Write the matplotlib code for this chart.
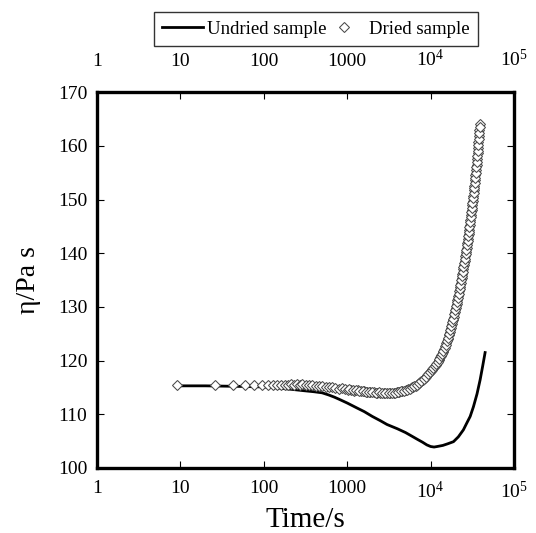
import matplotlib
matplotlib.use("Agg")
import matplotlib.pyplot as plt
from matplotlib.ticker import FixedLocator, FixedFormatter, NullLocator

plt.rcParams['font.family'] = ['Liberation Serif', 'DejaVu Serif']
plt.rcParams['mathtext.fontset'] = 'custom'
plt.rcParams['mathtext.rm'] = 'Liberation Serif'
plt.rcParams['mathtext.it'] = 'Liberation Serif:italic'

# Undried sample (line)
undried_t = [9, 20, 50, 100, 150, 200, 300, 400, 500, 600, 700, 800, 1000, 1300,
             1600, 2000, 2500, 3000, 4000, 5000, 6000, 7000, 8000, 9000, 10000,
             11000, 12000, 14000, 16000, 18800, 21500, 24700, 27000, 29800, 32600,
             36000, 39200, 42000, 45000]
undried_eta = [115.3, 115.3, 115.2, 115.1, 114.9, 114.7, 114.4, 114.2, 114.0, 113.6,
               113.2, 112.8, 112.1, 111.2, 110.5, 109.6, 108.8, 108.1, 107.3, 106.6,
               105.9, 105.3, 104.8, 104.3, 104.0, 103.9, 104.0, 104.2, 104.5, 104.9,
               105.8, 107.1, 108.3, 109.6, 111.4, 113.8, 116.4, 118.9, 121.5]

# Dried sample (diamonds)
dried_t = [9, 26, 43, 60, 77, 94, 111, 128, 145, 162, 179, 196, 213, 230, 250, 270,
           290, 320, 350, 380, 420, 460, 500, 550, 600, 660, 720, 790, 860, 940, 1020,
           1120, 1220, 1340, 1460, 1600, 1750, 1900, 2100, 2300, 2500, 2750, 3000,
           3300, 3600, 3900, 4200, 4600, 5000, 5400, 5800, 6200, 6600, 7000, 7500,
           8000, 8500, 9000, 9500, 10000, 10500, 11000, 11500, 12000, 12500, 13000,
           13500, 14000, 14500, 15000, 15500, 16000, 16500, 17000, 17500, 18000,
           18500, 19000, 19500, 20000, 20500, 21000, 21500, 22000, 22500, 23000,
           23500, 24000, 24500, 25000, 25500, 26000, 26500, 27000, 27500, 28000,
           28500, 29000, 29500, 30000, 30500, 31000, 31500, 32000, 32500, 33000,
           33500, 34000, 34500, 35000, 35500, 36000, 36500, 37000, 37500, 38000,
           38500, 39000]
dried_eta = [115.5, 115.5, 115.4, 115.4, 115.4, 115.5, 115.4, 115.5, 115.4, 115.5,
             115.5, 115.4, 115.6, 115.5, 115.6, 115.4, 115.6, 115.5, 115.4, 115.5,
             115.3, 115.2, 115.3, 115.1, 115.0, 115.1, 114.9, 114.8, 114.9, 114.7,
             114.6, 114.6, 114.4, 114.5, 114.3, 114.3, 114.2, 114.1, 114.1, 114.0,
             114.0, 113.9, 114.0, 113.9, 114.0, 114.1, 114.2, 114.4, 114.5, 114.7,
             114.9, 115.1, 115.3, 115.6, 116.0, 116.4, 116.8, 117.3, 117.7, 118.1,
             118.5, 118.9, 119.2, 119.6, 120.1, 120.6, 121.1, 121.6, 122.1, 122.7,
             123.3, 124.0, 124.7, 125.4, 126.1, 126.8, 127.5, 128.2, 129.0, 129.8,
             130.5, 131.3, 132.1, 132.9, 133.7, 134.5, 135.4, 136.2, 137.0, 137.8,
             138.6, 139.4, 140.2, 141.0, 141.9, 142.7, 143.6, 144.4, 145.3, 146.2,
             147.1, 148.0, 148.9, 149.8, 150.7, 151.7, 152.6, 153.6, 154.5, 155.5,
             156.5, 157.5, 158.6, 159.6, 160.7, 161.8, 162.9, 164.0]

# Additional dried-sample readings in the dense part of the band
dried_t_dense = [1050, 1170, 1280, 1400, 1530, 1680, 1820, 2000, 2200, 2400, 2620,
                 2870, 3150, 3450, 3750, 4050, 4400, 4800, 5200, 5600, 6000, 6400,
                 6800, 7250, 7750, 8250, 8750, 9250, 9750,
                 10250, 10750, 11250, 11750, 12250, 12750, 13250, 13750, 14250, 14750,
                 15250, 15750, 16250, 16750, 17250, 17750, 18250, 18750, 19250, 19750,
                 20250, 20750, 21250, 21750, 22250, 22750, 23250, 23750, 24250, 24750,
                 25250, 25750, 26250, 26750, 27250, 27750, 28250, 28750, 29250, 29750,
                 30250, 30750, 31250, 31750, 32250, 32750, 33250, 33750, 34250, 34750,
                 35250, 35750, 36250, 36750, 37250, 37750, 38250, 38750]
dried_eta_dense = [114.7, 114.5, 114.5, 114.4, 114.3, 114.2, 114.2, 114.1, 114.0, 114.1,
                   113.9, 114.0, 113.9, 114.0, 114.0, 114.1, 114.3, 114.4, 114.6, 114.8,
                   115.0, 115.2, 115.4, 115.8, 116.2, 116.6, 117.0, 117.5, 117.9,
                   118.3, 118.7, 119.0, 119.4, 119.8, 120.3, 120.8, 121.3, 121.8, 122.4,
                   123.0, 123.6, 124.3, 125.0, 125.7, 126.4, 127.1, 127.8, 128.6, 129.4,
                   130.2, 130.9, 131.7, 132.5, 133.3, 134.1, 135.0, 135.8, 136.6, 137.4,
                   138.2, 139.0, 139.8, 140.6, 141.5, 142.3, 143.2, 144.0, 144.9, 145.8,
                   146.7, 147.6, 148.5, 149.4, 150.3, 151.2, 152.2, 153.1, 154.1, 155.0,
                   156.0, 157.0, 158.1, 159.1, 160.2, 161.3, 162.4, 163.5]

x_ticks = [1, 10, 100, 1000, 1e4, 1e5]
x_tick_labels = ['1', '10', '100', '1000', r'$10^4$', r'$10^5$']
y_ticks = [100, 110, 120, 130, 140, 150, 160, 170]

fig = plt.figure(figsize=(5.36, 5.33), dpi=100)
ax = fig.add_axes([0.181, 0.122, 0.778, 0.705])

ax.plot(undried_t, undried_eta, color='black', lw=2.0, label='Undried sample', zorder=2)
ax.plot(dried_t, dried_eta, linestyle='none', marker='D', ms=5.0, mfc='white',
        mec='#4a4a4a', mew=0.75, label='Dried sample', zorder=3)
ax.plot(dried_t_dense, dried_eta_dense, linestyle='none', marker='D', ms=5.0,
        mfc='white', mec='#4a4a4a', mew=0.75, zorder=3)

ax.set_xscale('log')
ax.set_xlim(1, 1e5)
ax.set_ylim(100, 170)
ax.xaxis.set_major_locator(FixedLocator(x_ticks))
ax.xaxis.set_major_formatter(FixedFormatter(x_tick_labels))
ax.xaxis.set_minor_locator(NullLocator())
ax.set_yticks(y_ticks)

ax.tick_params(axis='both', which='major', direction='in', length=5, width=0.8,
               top=False, right=True, labelsize=14)
ax.tick_params(axis='x', pad=9)
ax.tick_params(axis='y', pad=7)
for s in ax.spines.values():
    s.set_linewidth(2.4)

top = ax.secondary_xaxis('top')
top.xaxis.set_major_locator(FixedLocator(x_ticks))
top.xaxis.set_major_formatter(FixedFormatter(x_tick_labels))
top.xaxis.set_minor_locator(NullLocator())
top.tick_params(axis='x', which='major', direction='in', length=5, width=0.8,
                labelsize=14, pad=16)
top.spines['top'].set_visible(False)

ax.set_xlabel('Time/s', fontsize=21, labelpad=4)
ax.set_ylabel('η/Pa s', fontsize=20, labelpad=12)

leg = fig.legend(loc='center', bbox_to_anchor=(0.589, 0.945), ncol=2, fontsize=13.5,
                 frameon=True, fancybox=False, edgecolor='black', handlelength=2.2,
                 handletextpad=0.2, columnspacing=-0.15, borderpad=0.45,
                 borderaxespad=0)
leg.get_frame().set_linewidth(1.0)

fig.savefig('out.png', dpi=100)
